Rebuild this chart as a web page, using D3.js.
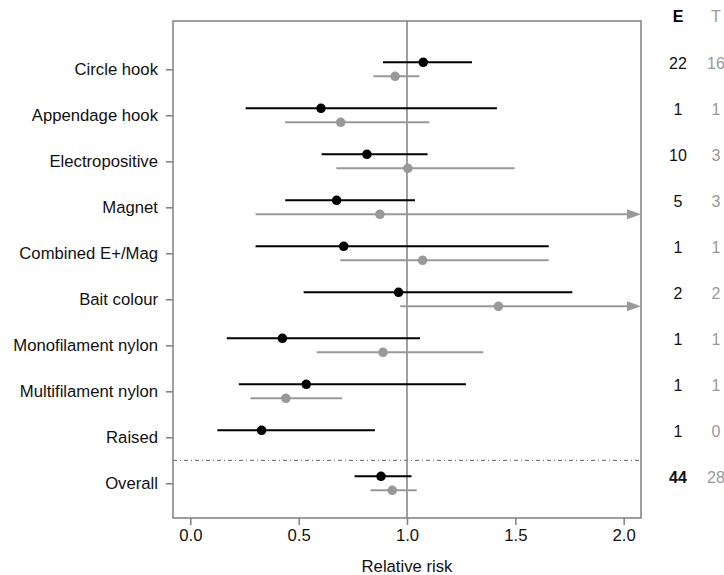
<!DOCTYPE html>
<html>
<head>
<meta charset="utf-8">
<script src="https://cdn.jsdelivr.net/npm/d3@7"></script>
<style>
  body { margin: 0; background: #fff; }
  svg text { font-family: "Liberation Sans", Arial, sans-serif; }
</style>
</head>
<body>
<script>
// rows, top to bottom
var categories = ["Circle hook", "Appendage hook", "Electropositive", "Magnet",
  "Combined E+/Mag", "Bait colour", "Monofilament nylon", "Multifilament nylon",
  "Raised", "Overall"];

// black series (E): relative risk and 95% CI
var eRR = [1.075, 0.603, 0.815, 0.675, 0.708, 0.961, 0.425, 0.535, 0.329, 0.880];
var eLo = [0.889, 0.255, 0.606, 0.438, 0.301, 0.523, 0.168, 0.224, 0.125, 0.758];
var eHi = [1.300, 1.415, 1.095, 1.037, 1.654, 1.763, 1.060, 1.272, 0.852, 1.021];

// grey series (T); upper limits above 2.08 run off the plot (arrow)
var tRR = [0.945, 0.694, 1.004, 0.875, 1.072, 1.422, 0.889, 0.441, null, 0.932];
var tLo = [0.845, 0.437, 0.674, 0.301, 0.692, 0.969, 0.583, 0.278, null, 0.832];
var tHi = [1.057, 1.103, 1.497, 2.5, 1.654, 2.5, 1.352, 0.700, null, 1.045];

// number of studies per column
var eCount = [22, 1, 10, 5, 1, 2, 1, 1, 1, 44];
var tCount = [16, 1, 3, 3, 1, 2, 1, 1, 0, 28];

var xTicks = [0, 0.5, 1, 1.5, 2];

var w = 724, h = 575;
var box = {left: 173, right: 641, top: 21, bottom: 518};
var black = "#000", grey = "#999", frame = "#808080";

var svg = d3.select("body").append("svg")
  .attr("width", w)
  .attr("height", h);

var x = d3.scaleLinear()
  .domain([-0.08, 2.08])
  .range([box.left, box.right]);

var y = d3.scalePoint()
  .domain(categories)
  .range([69.3, 483.3]);

var rows = categories.map(function(c, i){
  return {cat: c, eRR: eRR[i], eLo: eLo[i], eHi: eHi[i],
          tRR: tRR[i], tLo: tLo[i], tHi: tHi[i], e: eCount[i], t: tCount[i]};
});

// reference line at RR = 1
svg.append("line")
  .attr("x1", x(1)).attr("x2", x(1))
  .attr("y1", box.top).attr("y2", box.bottom)
  .attr("stroke", frame).attr("stroke-width", 1.5);

// separator above Overall
svg.append("line")
  .attr("x1", box.left).attr("x2", box.right)
  .attr("y1", (y("Raised") + y("Overall")) / 2)
  .attr("y2", (y("Raised") + y("Overall")) / 2)
  .attr("stroke", frame).attr("stroke-width", 1.2)
  .attr("stroke-dasharray", "4,3,1,3");

var xmax = x.domain()[1];

function series(key, col, off){
  var d = rows.filter(function(r){ return r[key + "RR"] != null; });
  var g = svg.append("g");
  g.selectAll("line")
    .data(d).enter().append("line")
    .attr("x1", function(r){ return x(r[key + "Lo"]); })
    .attr("x2", function(r){ return x(Math.min(r[key + "Hi"], xmax)) - (r[key + "Hi"] > xmax ? 8 : 0); })
    .attr("y1", function(r){ return y(r.cat) + off; })
    .attr("y2", function(r){ return y(r.cat) + off; })
    .attr("stroke", col).attr("stroke-width", 2);
  // arrow heads where CI runs off the scale
  g.selectAll("path")
    .data(d.filter(function(r){ return r[key + "Hi"] > xmax; }))
    .enter().append("path")
    .attr("d", function(r){
      var tx = x(xmax), ty = y(r.cat) + off;
      return "M" + tx + "," + ty + "L" + (tx - 14) + "," + (ty - 5) + "L" + (tx - 14) + "," + (ty + 5) + "Z";
    })
    .attr("fill", col);
  g.selectAll("circle")
    .data(d).enter().append("circle")
    .attr("cx", function(r){ return x(r[key + "RR"]); })
    .attr("cy", function(r){ return y(r.cat) + off; })
    .attr("r", 4.8)
    .attr("fill", col);
}
series("t", grey, 7);
series("e", black, -7);

// frame
svg.append("rect")
  .attr("x", box.left).attr("y", box.top)
  .attr("width", box.right - box.left).attr("height", box.bottom - box.top)
  .attr("fill", "none").attr("stroke", frame).attr("stroke-width", 1.5);

// axes
var xAxis = svg.append("g")
  .attr("transform", "translate(0," + box.bottom + ")")
  .call(d3.axisBottom(x).tickValues(xTicks).tickFormat(d3.format(".1f")).tickSize(7).tickPadding(4));
var yAxis = svg.append("g")
  .attr("transform", "translate(" + box.left + ",0)")
  .call(d3.axisLeft(y).tickSize(7).tickPadding(8));

[xAxis, yAxis].forEach(function(a){
  a.select(".domain").remove();
  a.selectAll(".tick line").attr("stroke", frame).attr("stroke-width", 1.5);
  a.selectAll(".tick text").attr("fill", "#111").style("font-size", "16.7px")
    .style("font-family", '"Liberation Sans", Arial, sans-serif');
});

svg.append("text")
  .attr("x", x(1)).attr("y", 572)
  .attr("text-anchor", "middle")
  .style("font-size", "16.7px").attr("fill", "#111")
  .text("Relative risk");

// count columns
var colE = 678, colT = 716;
svg.append("text").attr("x", colE).attr("y", 22).attr("text-anchor", "middle")
  .style("font-size", "16px").style("font-weight", "bold").attr("fill", black).text("E");
svg.append("text").attr("x", colT).attr("y", 22).attr("text-anchor", "middle")
  .style("font-size", "16px").attr("fill", grey).text("T");

svg.selectAll(".ecount")
  .data(rows).enter().append("text")
  .attr("x", colE).attr("y", function(r){ return y(r.cat); })
  .attr("text-anchor", "middle")
  .style("font-size", "16px")
  .style("font-weight", function(r){ return r.cat == "Overall" ? "bold" : "normal"; })
  .attr("fill", "#111")
  .text(function(r){ return r.e; });

svg.selectAll(".tcount")
  .data(rows).enter().append("text")
  .attr("x", colT).attr("y", function(r){ return y(r.cat); })
  .attr("text-anchor", "middle")
  .style("font-size", "16px")
  .attr("fill", grey)
  .text(function(r){ return r.t; });
</script>
</body>
</html>
